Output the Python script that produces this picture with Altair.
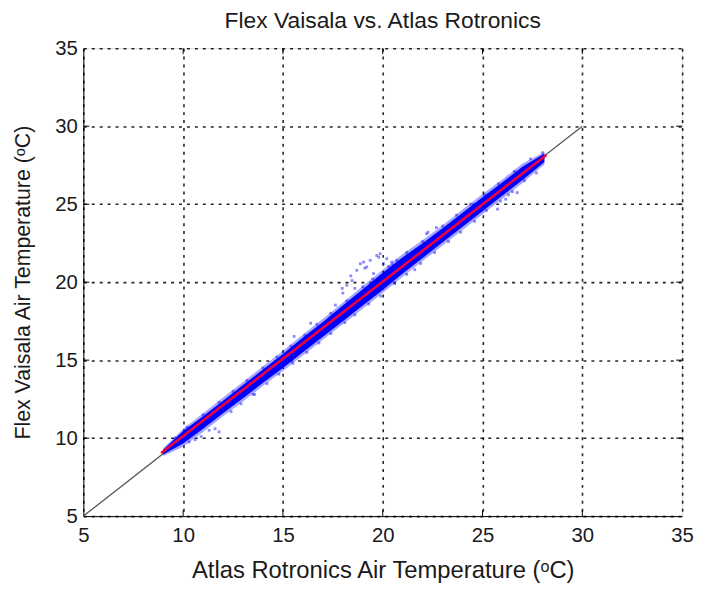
import altair as alt
import pandas as pd

# axis ticks
tick_vals = [5, 10, 15, 20, 25, 30, 35]
inner_ticks = [10, 15, 20, 25, 30]

# dense core of the scatter band (Atlas x, Flex lower / upper)
band_x = [9.0, 10, 11, 12, 13, 14, 15, 16, 17, 18, 19, 20, 21, 22, 23, 24, 25, 26, 27, 28.1]
band_lo = [8.95, 9.65, 10.6, 11.6, 12.55, 13.55, 14.5, 15.5, 16.5, 17.5, 18.5, 19.5, 20.55, 21.55, 22.55, 23.55, 24.55, 25.55, 26.55, 27.7]
band_hi = [9.25, 10.45, 11.4, 12.4, 13.4, 14.4, 15.4, 16.45, 17.45, 18.5, 19.55, 20.6, 21.6, 22.5, 23.45, 24.45, 25.45, 26.4, 27.4, 28.25]
# lighter fringe of the band
fringe_lo = [8.85, 9.45, 10.4, 11.4, 12.35, 13.35, 14.3, 15.3, 16.3, 17.3, 18.3, 19.3, 20.35, 21.35, 22.35, 23.35, 24.35, 25.35, 26.35, 27.55]
fringe_hi = [9.35, 10.6, 11.6, 12.6, 13.6, 14.6, 15.6, 16.65, 17.65, 18.7, 19.75, 20.8, 21.8, 22.7, 23.65, 24.65, 25.65, 26.6, 27.6, 28.35]

# scattered individual points (edges + off-line cluster)
pts_x = [10.3, 10.6, 10.9, 11.3, 11.6, 11.8, 12.4, 12.9, 13.5, 14.2, 14.8, 15.5, 16.2, 16.8,
         17.4, 18.1, 18.6, 19.3, 19.9, 20.6, 21.2, 21.9, 22.6, 23.3, 23.9, 24.6, 25.2, 25.9,
         26.5, 27.1, 27.7, 26.3, 25.75, 26.16, 26.74, 21.6,
         9.6, 10.2, 11.0, 11.8, 12.5, 13.2, 14.0, 14.7, 15.4, 15.56, 16.1, 16.39, 16.7, 17.4,
         17.63, 18.2, 19.0, 20.5, 21.2, 22.0, 23.0, 23.7, 24.4, 25.1, 25.8, 26.6, 27.4, 28.0,
         17.97, 18.2, 18.46, 18.7, 18.88, 19.04, 19.2, 19.37, 19.54, 19.7, 19.87, 20.04, 20.2,
         20.45, 18.0, 18.6, 19.5, 20.3, 22.2, 22.27, 22.69, 13.58, 18.4, 19.1, 19.8, 20.7]
pts_y = [9.75, 9.9, 10.1, 10.5, 10.6, 10.4, 11.7, 12.2, 12.8, 13.5, 14.1, 14.8, 15.5, 16.1,
         16.7, 17.4, 17.9, 18.6, 19.1, 19.9, 20.5, 21.2, 21.9, 22.6, 23.2, 23.9, 24.6, 25.2,
         25.8, 26.5, 27.0, 25.6, 24.68, 25.32, 25.74, 20.8,
         10.0, 10.7, 11.5, 12.3, 13.0, 13.7, 14.5, 15.2, 15.9, 16.52, 16.6, 17.37, 17.3, 18.0,
         18.53, 18.8, 19.7, 21.1, 21.9, 22.6, 23.6, 24.3, 25.0, 25.6, 26.3, 27.1, 27.9, 28.3,
         19.6, 19.8, 20.1, 20.76, 21.18, 21.29, 20.97, 21.4, 20.55, 21.71, 21.82, 21.18, 21.5,
         21.29, 19.3, 19.6, 20.2, 21.0, 23.1, 23.2, 23.5, 12.81, 20.4, 20.9, 21.6, 21.4]

# reference 1:1 line and fitted line
ref_x = [5, 30]
ref_y = [5, 30]
fit_x = [8.9, 28.2]
fit_y = [9.05, 28.15]

W, H = 604, 472
FONT = "Liberation Sans"
TXT = "#1a1a1a"

xs = alt.Scale(domain=[5, 35], nice=False, zero=False)
ys = alt.Scale(domain=[5, 35], nice=False, zero=False)

band_df = pd.DataFrame({"x": band_x, "lo": band_lo, "hi": band_hi,
                        "flo": fringe_lo, "fhi": fringe_hi})
pts_df = pd.DataFrame({"x": pts_x, "y": pts_y})
ref_df = pd.DataFrame({"x": ref_x, "y": ref_y})
fit_df = pd.DataFrame({"x": fit_x, "y": fit_y})
tick_df = pd.DataFrame({"v": inner_ticks})

x_axis = alt.Axis(values=tick_vals, title="Atlas Rotronics Air Temperature (ᵒC)", ticks=False,
                  grid=True, gridDash=[3, 5], gridColor="#000000", gridOpacity=0.85, gridWidth=1.6,
                  labelFontSize=20.5, labelFont=FONT, labelColor=TXT, labelPadding=10,
                  titleFontSize=24, titleFont=FONT, titleFontWeight="normal", titleColor=TXT,
                  titlePadding=12, domainColor="#000000", labelFlush=False)
y_axis = alt.Axis(values=tick_vals, title="Flex Vaisala Air Temperature (ᵒC)", ticks=False,
                  grid=True, gridDash=[3, 5], gridColor="#000000", gridOpacity=0.85, gridWidth=1.6,
                  labelFontSize=20.5, labelFont=FONT, labelColor=TXT, labelPadding=6,
                  titleFontSize=21.5, titleFont=FONT, titleFontWeight="normal", titleColor=TXT,
                  titlePadding=21, domainColor="#000000", labelFlush=False)

fringe = alt.Chart(band_df).mark_area(color="#0000ff", opacity=0.35).encode(
    x=alt.X("x:Q", scale=xs, axis=x_axis),
    y=alt.Y("flo:Q", scale=ys, axis=y_axis),
    y2="fhi:Q",
)
core = alt.Chart(band_df).mark_area(color="#0000ff", opacity=1).encode(
    x=alt.X("x:Q", scale=xs), y=alt.Y("lo:Q", scale=ys), y2="hi:Q"
)
pts = alt.Chart(pts_df).mark_square(color="#0000ff", opacity=0.45, size=8).encode(
    x=alt.X("x:Q", scale=xs), y=alt.Y("y:Q", scale=ys)
)
ref = alt.Chart(ref_df).mark_line(color="#555555", strokeWidth=1.3).encode(
    x=alt.X("x:Q", scale=xs), y=alt.Y("y:Q", scale=ys)
)
fit = alt.Chart(fit_df).mark_line(color="#f0003c", strokeWidth=2.6).encode(
    x=alt.X("x:Q", scale=xs), y=alt.Y("y:Q", scale=ys)
)
tb = alt.Chart(tick_df).mark_rule(color="#000000", strokeWidth=1).encode(
    x=alt.X("v:Q", scale=xs), y=alt.value(H), y2=alt.value(H - 6))
tt = alt.Chart(tick_df).mark_rule(color="#000000", strokeWidth=1).encode(
    x=alt.X("v:Q", scale=xs), y=alt.value(0), y2=alt.value(6))
tl = alt.Chart(tick_df).mark_rule(color="#000000", strokeWidth=1).encode(
    y=alt.Y("v:Q", scale=ys), x=alt.value(0), x2=alt.value(6))
tr = alt.Chart(tick_df).mark_rule(color="#000000", strokeWidth=1).encode(
    y=alt.Y("v:Q", scale=ys), x=alt.value(W), x2=alt.value(W - 6))

chart = alt.layer(fringe, ref, core, pts, fit, tb, tt, tl, tr).properties(
    width=W, height=H,
    title=alt.TitleParams("Flex Vaisala vs. Atlas Rotronics", fontSize=23, font=FONT,
                          fontWeight="normal", color=TXT, anchor="middle", offset=5),
    autosize=alt.AutoSizeParams(type="none"),
    padding={"left": 76, "top": 38, "right": 14, "bottom": 72},
).configure_view(stroke="#000000", strokeWidth=1.2).configure(background="#ffffff")

chart.save("out.html", embed_options={"renderer": "svg", "actions": False})
